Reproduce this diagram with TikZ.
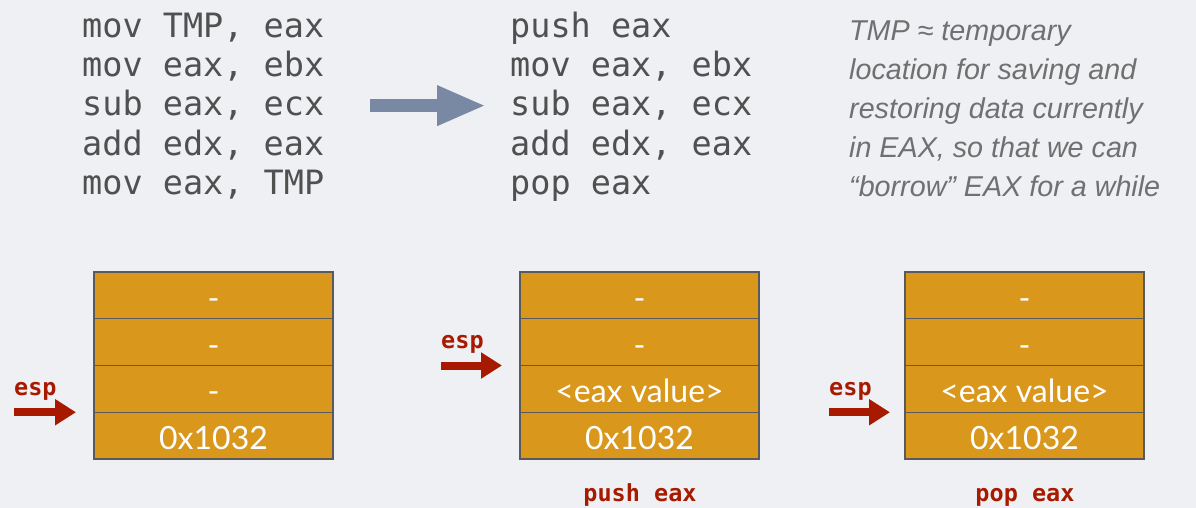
\documentclass[tikz,border=0pt]{standalone}
\usepackage{fontspec}
\usetikzlibrary{positioning,arrows.meta}
\newfontfamily\codefont{DejaVu Sans Mono}
\newfontfamily\notefont{Liberation Sans}
\newfontfamily\cellfont{Lato}

\definecolor{bgcolor}{RGB}{238,240,243}
\definecolor{cellfill}{RGB}{217,151,28}
\definecolor{cellline}{RGB}{90,90,90}
\definecolor{codegray}{RGB}{80,80,80}
\definecolor{espred}{RGB}{168,26,0}
\definecolor{slate}{RGB}{122,137,163}
\definecolor{notegray}{RGB}{112,112,112}

\tikzset{
  cell/.style     = {shape=rectangle, draw=cellline, fill=cellfill,
                     line width=1.2pt, inner sep=0pt, outer sep=0pt,
                     minimum width=239pt, minimum height=46.75pt,
                     text height=28pt, text depth=0pt,
                     text=white, font=\cellfont\fontsize{32}{32}\selectfont},
  codeline/.style = {anchor=base west, inner sep=0pt, text=codegray,
                     font=\codefont\fontsize{33.5}{39}\selectfont},
  esp/.style      = {anchor=base west, inner sep=0pt, text=espred,
                     font=\codefont\bfseries\fontsize{23.5}{24}\selectfont},
  opname/.style   = {esp, anchor=base},
  esparrow/.style = {draw=espred, line width=8pt,
                     -{Triangle[length=21pt,width=25pt]}},
  bigarrow/.style = {draw=slate, line width=13pt,
                     -{Triangle[length=49pt,width=37pt]}}
}

\begin{document}
\begin{tikzpicture}[x=1pt,y=-1pt]
  \fill[bgcolor] (0,0) rectangle (1196,508);
  \useasboundingbox (0,0) rectangle (1196,508);

  % code before / after
  \foreach \t [count=\i] in {{mov TMP, eax},{mov eax, ebx},{sub eax, ecx},
                             {add edx, eax},{mov eax, TMP}}
    \node[codeline] (old\i) at (82,{38+39*(\i-1)}) {\t};
  \foreach \t [count=\i] in {{push eax},{mov eax, ebx},{sub eax, ecx},
                             {add edx, eax},{pop eax}}
    \node[codeline] (new\i) at (510,{38+39*(\i-1)}) {\t};

  \draw[bigarrow] ([xshift=46pt]old3.east) -- ([xshift=-24pt]new3.west);

  \node[anchor=north west, inner sep=0pt, align=left, text=notegray,
        font=\notefont\itshape\fontsize{28.7}{38.8}\selectfont] (note) at (849,21)
    {TMP ≈ temporary\\ location for saving and\\ restoring data currently\\
     in EAX, so that we can\\ “borrow” EAX for a while};

  % stack before
  \node[cell, anchor=north west] (l1) at (94,272) {-};
  \node[cell, below=0pt of l1] (l2) {-};
  \node[cell, below=0pt of l2] (l3) {-};
  \node[cell, below=0pt of l3] (l4) {0x1032};
  \node[esp] (espl) at (14,395) {esp};
  \draw[esparrow] ([xshift=-80pt]l4.north west) -- ([xshift=-18pt]l4.north west);

  % stack after push
  \node[cell, anchor=north west] (m1) at (520,272) {-};
  \node[cell, below=0pt of m1] (m2) {-};
  \node[cell, below=0pt of m2] (m3) {<eax value>};
  \node[cell, below=0pt of m3] (m4) {0x1032};
  \node[esp] (espm) at (441,348) {esp};
  \draw[esparrow] ([xshift=-79pt]m3.north west) -- ([xshift=-18pt]m3.north west);
  \node[opname] (push) at (640,501) {push eax};

  % stack after pop
  \node[cell, anchor=north west] (r1) at (905,272) {-};
  \node[cell, below=0pt of r1] (r2) {-};
  \node[cell, below=0pt of r2] (r3) {<eax value>};
  \node[cell, below=0pt of r3] (r4) {0x1032};
  \node[esp] (espr) at (829,395) {esp};
  \draw[esparrow] ([xshift=-76pt]r4.north west) -- ([xshift=-15pt]r4.north west);
  \node[opname] (pop) at (1025,501) {pop eax};
\end{tikzpicture}
\end{document}
